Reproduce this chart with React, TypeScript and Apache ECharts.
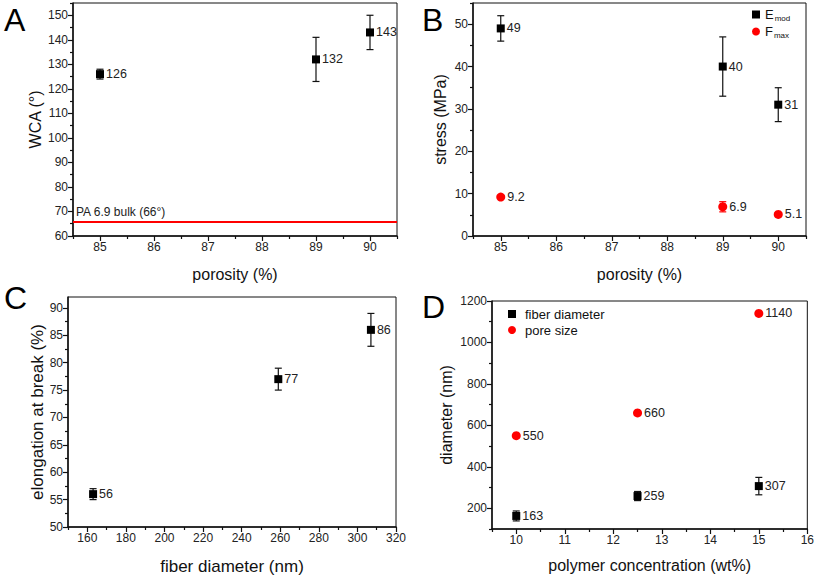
import React, { useEffect, useRef } from "react";
import * as echarts from "echarts";

// ---------- data ----------
const porosity = [85, 89, 90];
const wca = [126, 132, 143];
const wcaErr = [2, 9, 7];
const bulkWca = 66;

const emod = [49, 40, 31];
const emodErr = [3, 7, 4];
const fmax = [9.2, 6.9, 5.1];
const fmaxErr = [0.3, 1.2, 0.3];

const fiberDiameterC = [163, 259, 307];
const elongation = [56, 77, 86];
const elongationErr = [1, 2, 3];

const concentration = [10, 12.5, 15];
const fiberDiam = [163, 259, 307];
const fiberDiamErr = [24, 22, 42];
const poreSize = [550, 660, 1140];

// tick labels
const porosityTicks = [85, 86, 87, 88, 89, 90];
const porosityMinor = [84.5, 85.5, 86.5, 87.5, 88.5, 89.5, 90.5];
const wcaTicks = [60, 70, 80, 90, 100, 110, 120, 130, 140, 150];
const wcaMinor = [65, 75, 85, 95, 105, 115, 125, 135, 145, 155];
const stressTicks = [0, 10, 20, 30, 40, 50];
const stressMinor = [5, 15, 25, 35, 45, 55];
const fiberTicks = [160, 180, 200, 220, 240, 260, 280, 300, 320];
const fiberMinor = [150, 170, 190, 210, 230, 250, 270, 290, 310];
const elongTicks = [50, 55, 60, 65, 70, 75, 80, 85, 90];
const elongMinor = [52.5, 57.5, 62.5, 67.5, 72.5, 77.5, 82.5, 87.5];
const concTicks = [10, 11, 12, 13, 14, 15, 16];
const concMinor = [9.5, 10.5, 11.5, 12.5, 13.5, 14.5, 15.5];
const diamTicks = [200, 400, 600, 800, 1000, 1200];
const diamMinor = [100, 300, 500, 700, 900, 1100];

const FONT = "'Liberation Sans', Arial, Helvetica, sans-serif";
const INK = "#111";
const RED = "#ff0000";

function axisPair(
  kind: "x" | "y",
  gridIndex: number,
  min: number,
  max: number,
  majors: number[],
  minors: number[],
  name: string,
  nameGap: number,
  nameSize: number
) {
  const common: any = {
    type: "value",
    gridIndex,
    min,
    max,
    position: kind === "x" ? "bottom" : "left",
    splitLine: { show: false },
  };
  const main = {
    ...common,
    name,
    nameLocation: "middle",
    nameGap,
    nameTextStyle: { fontSize: nameSize, color: INK, fontFamily: FONT },
    axisLine: { show: true, onZero: false, lineStyle: { color: INK, width: 1.5 } },
    axisTick: {
      show: true,
      inside: false,
      length: 5,
      customValues: majors,
      lineStyle: { color: INK, width: 1.2 },
    },
    axisLabel: {
      show: true,
      customValues: majors,
      fontSize: 12,
      color: "#222",
      fontFamily: FONT,
      margin: 5,
      formatter: (v: number) => String(v),
    },
  };
  const minor = {
    ...common,
    axisLine: { show: false, onZero: false },
    axisTick: {
      show: true,
      inside: false,
      length: 3,
      customValues: minors,
      lineStyle: { color: INK, width: 1.2 },
    },
    axisLabel: { show: false },
  };
  return [main, minor];
}

function errorSeries(
  gi: number,
  xs: number[],
  ys: number[],
  errs: number[],
  color: string
) {
  return {
    type: "custom",
    xAxisIndex: gi * 2,
    yAxisIndex: gi * 2,
    silent: true,
    z: 1,
    encode: { x: 0, y: [1, 2] },
    data: xs.map((x, i) => [x, ys[i] - errs[i], ys[i] + errs[i]]),
    renderItem: (params: any, api: any) => {
      const lo = api.coord([api.value(0), api.value(1)]);
      const hi = api.coord([api.value(0), api.value(2)]);
      const hw = 3.5;
      const style = { stroke: color, lineWidth: 1.2 };
      return {
        type: "group",
        children: [
          { type: "line", shape: { x1: lo[0], y1: lo[1], x2: hi[0], y2: hi[1] }, style },
          { type: "line", shape: { x1: lo[0] - hw, y1: lo[1], x2: lo[0] + hw, y2: lo[1] }, style },
          { type: "line", shape: { x1: hi[0] - hw, y1: hi[1], x2: hi[0] + hw, y2: hi[1] }, style },
        ],
      };
    },
  };
}

function pointSeries(
  name: string,
  gi: number,
  xs: number[],
  ys: number[],
  symbol: string,
  size: number,
  color: string,
  extra: any = {}
) {
  return {
    name,
    type: "scatter",
    xAxisIndex: gi * 2,
    yAxisIndex: gi * 2,
    symbol,
    symbolSize: size,
    z: 3,
    itemStyle: { color, opacity: 1 },
    data: xs.map((x, i) => [x, ys[i]]),
    label: {
      show: true,
      position: "right",
      distance: 2,
      fontSize: 12.5,
      color: "#222",
      fontFamily: FONT,
      formatter: (p: any) => String(p.value[1]),
    },
    ...extra,
  };
}

export default function App() {
  const ref = useRef<HTMLDivElement>(null);
  useEffect(() => {
    if (!ref.current) return;
    const chart = echarts.init(ref.current, undefined, { renderer: "svg" });
    const gridBase = { show: true, borderColor: INK, borderWidth: 1, backgroundColor: "#fff" };
    const option: any = {
      animation: false,
      backgroundColor: "#fff",
      textStyle: { fontFamily: FONT },
      grid: [
        { ...gridBase, left: 73, top: 3, width: 324, height: 233 },
        { ...gridBase, left: 473, top: 3, width: 333, height: 233 },
        { ...gridBase, left: 68, top: 297, width: 328, height: 230 },
        { ...gridBase, left: 492, top: 301, width: 317, height: 228 },
      ],
      xAxis: [
        ...axisPair("x", 0, 84.5, 90.5, porosityTicks, porosityMinor, "porosity (%)", 30, 16),
        ...axisPair("x", 1, 84.5, 90.5, porosityTicks, porosityMinor, "porosity (%)", 30, 16),
        ...axisPair("x", 2, 150, 320, fiberTicks, fiberMinor, "fiber diameter (nm)", 31, 17),
        ...axisPair("x", 3, 9.5, 16, concTicks, concMinor, "polymer concentration (wt%)", 28, 16),
      ],
      yAxis: [
        ...axisPair("y", 0, 60, 155, wcaTicks, wcaMinor, "WCA (°)", 30, 16),
        ...axisPair("y", 1, 0, 55, stressTicks, stressMinor, "stress (MPa)", 25, 16),
        ...axisPair("y", 2, 50, 92, elongTicks, elongMinor, "elongation at break (%)", 22, 17),
        ...axisPair("y", 3, 100, 1200, diamTicks, diamMinor, "diameter (nm)", 38, 16),
      ],
      legend: [
        {
          data: ["E_mod", "F_max"],
          orient: "vertical",
          left: 747,
          top: 2,
          itemWidth: 8,
          itemHeight: 8,
          itemGap: 2,
          formatter: (n: string) => (n === "E_mod" ? "{b|E}{s|mod}" : "{b|F}{s|max}"),
          textStyle: {
            color: INK,
            rich: {
              b: { fontSize: 13, color: INK, fontFamily: FONT, lineHeight: 18 },
              s: { fontSize: 8, color: INK, fontFamily: FONT, lineHeight: 18, padding: [7, 0, 0, 1] },
            },
          },
        },
        {
          data: ["fiber diameter", "pore size"],
          orient: "vertical",
          left: 503,
          top: 302,
          itemWidth: 8,
          itemHeight: 8,
          itemGap: 2,
          textStyle: { color: INK, fontSize: 13, fontFamily: FONT, lineHeight: 14, padding: [0, 0, 0, 4] },
        },
      ],
      graphic: [
        { type: "text", left: 4, top: 4, style: { text: "A", fontSize: 32, fill: "#000", fontFamily: FONT } },
        { type: "text", left: 422, top: 4, style: { text: "B", fontSize: 32, fill: "#000", fontFamily: FONT } },
        { type: "text", left: 4, top: 282, style: { text: "C", fontSize: 32, fill: "#000", fontFamily: FONT } },
        { type: "text", left: 422, top: 291, style: { text: "D", fontSize: 32, fill: "#000", fontFamily: FONT } },
      ],
      series: [
        errorSeries(0, porosity, wca, wcaErr, INK),
        pointSeries("WCA", 0, porosity, wca, "rect", 8, "#000", {
          markLine: {
            silent: true,
            symbol: "none",
            lineStyle: { color: RED, width: 2, type: "solid", opacity: 1 },
            label: {
              show: true,
              position: "insideStartTop",
              formatter: "PA 6.9 bulk (66°)",
              color: "#222",
              fontSize: 12,
              fontFamily: FONT,
              distance: [3, 3],
            },
            data: [{ yAxis: bulkWca }],
          },
        }),
        errorSeries(1, porosity, emod, emodErr, INK),
        pointSeries("E_mod", 1, porosity, emod, "rect", 8, "#000"),
        errorSeries(1, porosity, fmax, fmaxErr, RED),
        pointSeries("F_max", 1, porosity, fmax, "circle", 9, RED),
        errorSeries(2, fiberDiameterC, elongation, elongationErr, INK),
        pointSeries("elongation", 2, fiberDiameterC, elongation, "rect", 8, "#000"),
        errorSeries(3, concentration, fiberDiam, fiberDiamErr, INK),
        pointSeries("fiber diameter", 3, concentration, fiberDiam, "rect", 8, "#000"),
        pointSeries("pore size", 3, concentration, poreSize, "circle", 9, RED),
      ],
    };
    chart.setOption(option);
    return () => chart.dispose();
  }, []);
  return (
    <div
      ref={ref}
      style={{ position: "absolute", left: 0, top: 0, width: 817, height: 577, background: "#fff" }}
    />
  );
}
